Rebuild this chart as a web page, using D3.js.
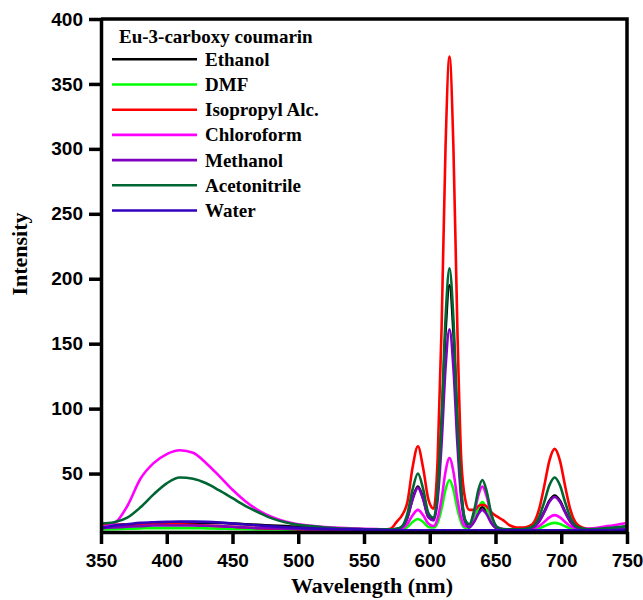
<!DOCTYPE html>
<html>
<head>
<meta charset="utf-8">
<script src="https://cdn.jsdelivr.net/npm/d3@7"></script>
<style>
  body { margin: 0; background: #fff; }
  .tick text { font-family: "Liberation Sans", Arial, sans-serif; font-weight: bold; font-size: 19px; fill: #000; }
  .axisTitle { font-family: "Liberation Serif", "Times New Roman", serif; font-weight: bold; font-size: 22px; }
  .legend text { font-family: "Liberation Serif", "Times New Roman", serif; font-weight: bold; font-size: 19px; }
</style>
</head>
<body>
<div id="chart"></div>
<script>

  // Data

  var wavelength = [350, 360, 370, 380, 390, 400, 410, 420, 430, 440, 450, 460, 470, 480, 490, 500, 510, 520, 540, 560,
    570, 575, 579, 583, 587, 591, 595, 599, 603, 606, 609, 612, 615, 618, 621, 624, 627, 630, 634, 637,
    640, 643, 647, 651, 656, 661, 666, 672, 678, 683, 687, 691, 695, 699, 703, 707, 712, 720, 735, 750];

  var ethanol = [8, 9, 10, 11, 11.5, 12, 12, 12, 12, 12, 11.5, 11, 10.5, 10, 9.5, 9, 8.5, 8, 7.5, 7,
    7, 7.2, 8.8, 16.2, 31, 40, 31, 16.6, 15, 35, 87, 159, 195, 159, 87, 35, 13.5, 9.5, 14, 20.6,
    24, 20.6, 12, 7.9, 7, 7, 7, 7.1, 8.4, 13, 20.5, 29, 33, 29, 20.5, 13, 8.4, 7, 7, 7.5];

  var dmf = [7, 7.2, 7.5, 7.8, 8, 8, 8, 8, 7.8, 7.6, 7.4, 7.2, 7, 7, 6.8, 6.8, 6.7, 6.6, 6.5, 6.5,
    6.5, 6.5, 7, 8.9, 12.7, 15, 12.7, 8.9, 8.5, 12.2, 23, 37.6, 45, 37.6, 23, 12.2, 8.3, 8.4, 15.3, 23.7,
    28, 23.7, 12.9, 7.6, 6.5, 6.5, 6.5, 6.5, 6.8, 7.8, 9.4, 11.2, 12, 11.2, 9.4, 7.8, 6.8, 6.5, 6.5, 6.5];

  var isopropyl = [10, 10.5, 11, 11, 11, 11, 11, 10.5, 10, 9.5, 9, 8.5, 8, 7.5, 7.5, 7, 7, 7, 6.5, 6.5,
    7.5, 13, 18, 28, 55, 71, 54, 30, 23, 61, 162, 301, 371, 301, 162, 60, 30, 22, 22, 25,
    26, 25, 20, 17, 14, 10, 8.5, 8.5, 11, 22, 40, 60, 69, 60, 40, 22, 11, 7.5, 7, 7];

  var chloroform = [9, 11.5, 25, 46, 58, 65, 68, 66, 58, 48, 37.5, 28.5, 21.5, 16.5, 13, 11, 9.8, 8.8, 7.8, 7.2,
    7, 7.1, 7.8, 11.2, 17.9, 22, 17.9, 11.3, 9.6, 15.5, 30.5, 51.4, 62, 51.4, 30.5, 15.3, 9.4, 9.9, 20.5, 33.4,
    40, 33.4, 16.8, 8.7, 7.1, 7, 7, 7, 7.6, 9.5, 12.7, 16.3, 18, 16.3, 12.7, 9.5, 7.6, 7.5, 9.5, 12];

  var methanol = [8, 8.5, 9, 9.5, 10, 10, 10, 10, 9.8, 9.5, 9, 8.5, 8, 7.8, 7.5, 7.3, 7, 7, 6.8, 6.7,
    7, 7.2, 8.8, 15.9, 30.2, 39, 30.2, 16.2, 13.9, 30, 73, 131.4, 161, 131.4, 73, 29.6, 12.3, 8.6, 13.2, 19,
    22, 19, 11.5, 7.8, 7, 7, 7, 7.1, 8.3, 12.8, 20, 28.2, 32, 28.2, 20, 12.8, 8.3, 7, 7, 7];

  var acetonitrile = [11.5, 12.5, 16, 24, 34, 42.5, 47, 46, 42.5, 37, 31, 25, 20, 15.5, 12.5, 10.5, 9.5, 8.5, 7.5, 7,
    7, 7.5, 9.5, 19, 38, 50, 38, 19.5, 16, 37, 93, 169, 208, 169, 93, 37, 14.2, 11, 22.6, 37.4,
    45, 37.4, 18.3, 9, 7.2, 7, 7, 7.2, 9.1, 16.2, 27.8, 41, 47, 41, 27.8, 16.2, 9.1, 7.1, 8, 9.5];

  var water = [8, 10, 11, 12, 12.5, 12.8, 13, 13, 12.8, 12.3, 11.5, 10.8, 10, 9.3, 8.7, 8.2, 7.8, 7.4, 7, 6.6,
    6.4, 6.3, 6.3, 6.3, 6.3, 6.3, 6.3, 6.3, 6.3, 6.3, 6.3, 6.3, 6.3, 6.3, 6.3, 6.3, 6.3, 6.3, 6.3, 6.3,
    6.3, 6.3, 6.3, 6.3, 6.3, 6.3, 6.3, 6.3, 6.3, 6.3, 6.3, 6.3, 6.3, 6.3, 6.3, 6.3, 6.3, 6.3, 6.4, 6.5];

  var solvents = ["Ethanol", "DMF", "Isopropyl Alc.", "Chloroform", "Methanol", "Acetonitrile", "Water"];
  var colors = ["#000000", "#00ff00", "#ff0000", "#ff00ff", "#8000c0", "#006633", "#3300bb"];
  var xTicks = [350, 400, 450, 500, 550, 600, 650, 700, 750];
  var yTicks = [50, 100, 150, 200, 250, 300, 350, 400];

  var series = [ethanol, dmf, isopropyl, chloroform, methanol, acetonitrile, water].map(function(vals, i) {
    return {name: solvents[i], color: colors[i],
      values: vals.map(function(v, j) { return {x: wavelength[j], y: v}; })};
  });

  // Generate svg

  var width = 643,
      height = 600;
  var plot = {left: 101, right: 627, top: 19, bottom: 532};

  var svg = d3.select("#chart")
      .append("svg")
      .attr("width", width)
      .attr("height", height);

  // Scales

  var xScale = d3.scaleLinear()
      .domain([350, 750])
      .range([plot.left, plot.right]);

  var yScale = d3.scaleLinear()
      .domain([5, 400])
      .range([plot.bottom, plot.top]);

  // Lines, clipped to the frame

  svg.append("clipPath")
      .attr("id", "clip")
      .append("rect")
      .attr("x", plot.left)
      .attr("y", plot.top)
      .attr("width", plot.right - plot.left)
      .attr("height", plot.bottom - plot.top);

  var line = d3.line()
      .x(function(d) { return xScale(d.x); })
      .y(function(d) { return yScale(d.y); })
      .curve(d3.curveMonotoneX);

  svg.append("g")
      .attr("clip-path", "url(#clip)")
      .selectAll("path")
      .data(series)
      .enter().append("path")
      .attr("d", function(d) { return line(d.values); })
      .attr("fill", "none")
      .attr("stroke", function(d) { return d.color; })
      .attr("stroke-width", 2.6)
      .attr("stroke-linejoin", "round");

  // Axes

  var xAxis = svg.append("g")
      .attr("transform", `translate(0, ${plot.bottom})`)
      .call(d3.axisBottom(xScale).tickValues(xTicks).tickSize(12).tickSizeOuter(0).tickPadding(10));

  var yAxis = svg.append("g")
      .attr("transform", `translate(${plot.left}, 0)`)
      .call(d3.axisLeft(yScale).tickValues(yTicks).tickSize(12).tickSizeOuter(0).tickPadding(6));

  svg.selectAll(".domain").attr("stroke", "#000").attr("stroke-width", 3.5);
  svg.selectAll(".tick line").attr("stroke", "#000").attr("stroke-width", 3.5);

  // top and right frame lines (no ticks)
  svg.append("path")
      .attr("d", `M${plot.left},${plot.top}H${plot.right}V${plot.bottom}`)
      .attr("fill", "none")
      .attr("stroke", "#000")
      .attr("stroke-width", 3.5);

  // Axis titles

  svg.append("text")
      .attr("class", "axisTitle")
      .attr("x", 372)
      .attr("y", 593)
      .attr("text-anchor", "middle")
      .text("Wavelength (nm)");

  svg.append("text")
      .attr("class", "axisTitle")
      .attr("transform", "translate(27, 254) rotate(-90)")
      .attr("text-anchor", "middle")
      .text("Intensity");

  // Legend

  var legend = svg.append("g").attr("class", "legend");

  legend.append("text")
      .attr("x", 119)
      .attr("y", 43)
      .text("Eu-3-carboxy coumarin");

  var entry = legend.selectAll(".entry")
      .data(series)
      .enter().append("g")
      .attr("class", "entry")
      .attr("transform", function(d, i) { return `translate(0, ${59.3 + i * 25.2})`; });

  entry.append("line")
      .attr("x1", 112)
      .attr("x2", 197)
      .attr("stroke", function(d) { return d.color; })
      .attr("stroke-width", 2.6);

  entry.append("text")
      .attr("x", 205)
      .attr("y", 6.5)
      .text(function(d) { return d.name; });

</script>
</body>
</html>
